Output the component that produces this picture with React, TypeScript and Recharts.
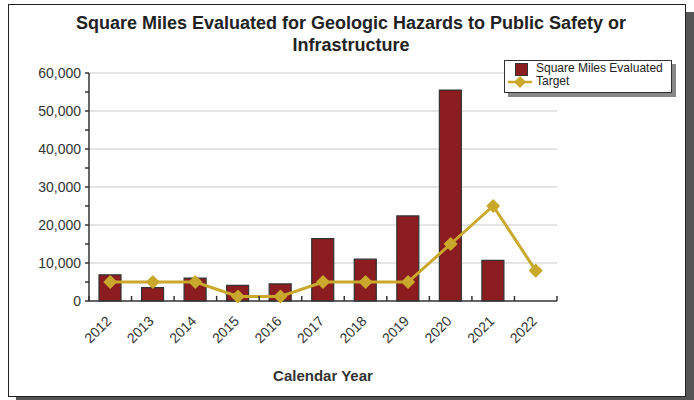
import { ComposedChart, Bar, Line, XAxis, YAxis, CartesianGrid } from "recharts";

const years = ["2012", "2013", "2014", "2015", "2016", "2017", "2018", "2019", "2020", "2021", "2022"];
const squareMiles = [6900, 3500, 6000, 4100, 4500, 16400, 11000, 22400, 55500, 10700, null];
const target = [5000, 5000, 5000, 1200, 1200, 5000, 5000, 5000, 15000, 25000, 8000];
const yTicks = [0, 5000, 10000, 15000, 20000, 25000, 30000, 35000, 40000, 45000, 50000, 55000, 60000];
const gridValues = [10000, 20000, 30000, 40000, 50000, 60000];

const data = years.map((year, i) => ({ year, squareMiles: squareMiles[i], target: target[i] }));

const FONT = '"Liberation Sans", Arial, sans-serif';
const BAR_COLOR = "#8b1d20";
const LINE_COLOR = "#c9a82c";
const AXIS_COLOR = "#333";

// plot area geometry
const PLOT_LEFT = 89;
const PLOT_RIGHT = 557;
const PLOT_TOP = 73;
const PLOT_BOTTOM = 301;
const BAND = (PLOT_RIGHT - PLOT_LEFT) / years.length;

function XTick(props: any) {
  const { x, y, payload, index } = props;
  const last = index === years.length - 1;
  return (
    <g>
      <line x1={x - BAND / 2} x2={x - BAND / 2} y1={y} y2={y - 5} stroke={AXIS_COLOR} strokeWidth={1.5} />
      {last && <line x1={x + BAND / 2} x2={x + BAND / 2} y1={y} y2={y - 5} stroke={AXIS_COLOR} strokeWidth={1.5} />}
      <text
        x={x + 2}
        y={y + 21}
        textAnchor="end"
        fontSize={14}
        fill={AXIS_COLOR}
        fontFamily={FONT}
        transform={`rotate(-45, ${x + 2}, ${y + 21})`}
      >
        {payload.value}
      </text>
    </g>
  );
}

function Diamond(props: any) {
  const { cx, cy } = props;
  if (cx == null || cy == null) return null;
  const r = 6;
  return (
    <polygon
      points={`${cx},${cy - r} ${cx + r},${cy} ${cx},${cy + r} ${cx - r},${cy}`}
      fill={LINE_COLOR}
      stroke={LINE_COLOR}
      strokeWidth={1.5}
      strokeLinejoin="round"
    />
  );
}

export default function App() {
  return (
    <div style={{ position: "absolute", left: 0, top: 0, width: 694, height: 400, fontFamily: FONT, background: "#fff" }}>
      <div
        style={{
          position: "absolute",
          left: 8,
          top: 4,
          width: 676,
          height: 391,
          border: "1.5px solid #222",
          boxShadow: "8px 8px 0 #555",
          background: "#fff",
        }}
      />
      <div
        style={{
          position: "absolute",
          left: 8,
          width: 686,
          top: 12,
          textAlign: "center",
          fontWeight: "bold",
          fontSize: 18,
          lineHeight: "22px",
          color: "#222",
        }}
      >
        Square Miles Evaluated for Geologic Hazards to Public Safety or
        <br />
        Infrastructure
      </div>
      <div style={{ position: "absolute", left: 0, top: 0 }}>
        <ComposedChart
          width={694}
          height={400}
          data={data}
          margin={{ top: PLOT_TOP, right: 694 - PLOT_RIGHT, bottom: 400 - PLOT_BOTTOM - 60, left: PLOT_LEFT - 60 }}
        >
          <CartesianGrid vertical={false} horizontalValues={gridValues} stroke="#dcdcdc" strokeWidth={1.5} />
          <XAxis
            dataKey="year"
            height={60}
            interval={0}
            tickLine={false}
            tickSize={0}
            tickMargin={0}
            axisLine={{ stroke: AXIS_COLOR, strokeWidth: 1.5 }}
            tick={<XTick />}
          />
          <YAxis
            width={60}
            domain={[0, 60000]}
            ticks={yTicks}
            interval={0}
            tickSize={4}
            tickMargin={4}
            tickLine={{ stroke: AXIS_COLOR, strokeWidth: 1.5 }}
            axisLine={{ stroke: AXIS_COLOR, strokeWidth: 1.5 }}
            tick={{ fill: AXIS_COLOR, fontSize: 14, fontFamily: FONT }}
            tickFormatter={(v: number) => (v % 10000 === 0 ? v.toLocaleString("en-US") : "")}
          />
          <Bar dataKey="squareMiles" name="Square Miles Evaluated" fill={BAR_COLOR} stroke="#333" strokeWidth={1.2} barSize={22} isAnimationActive={false} />
          <Line
            dataKey="target"
            name="Target"
            type="linear"
            stroke={LINE_COLOR}
            strokeWidth={3}
            dot={<Diamond />}
            activeDot={false}
            isAnimationActive={false}
          />
        </ComposedChart>
      </div>
      <div
        style={{
          position: "absolute",
          left: 504,
          top: 60,
          width: 166,
          height: 31,
          border: "1.5px solid #333",
          boxShadow: "4px 4px 0 #888",
          background: "#fff",
          fontSize: 12,
          color: "#222",
        }}
      >
        <div style={{ position: "absolute", left: 10, top: 2, width: 11, height: 11, background: BAR_COLOR, border: "1px solid #333" }} />
        <div style={{ position: "absolute", left: 31, top: 0, lineHeight: "14px" }}>Square Miles Evaluated</div>
        <svg style={{ position: "absolute", left: 2, top: 14 }} width={26} height={14}>
          <line x1={1} x2={25} y1={7} y2={7} stroke={LINE_COLOR} strokeWidth={2.5} />
          <polygon points="13,1 19,7 13,13 7,7" fill={LINE_COLOR} />
        </svg>
        <div style={{ position: "absolute", left: 31, top: 13, lineHeight: "14px" }}>Target</div>
      </div>
      <div
        style={{
          position: "absolute",
          left: 223,
          width: 200,
          top: 367,
          textAlign: "center",
          fontWeight: "bold",
          fontSize: 15,
          color: "#333",
        }}
      >
        Calendar Year
      </div>
    </div>
  );
}
